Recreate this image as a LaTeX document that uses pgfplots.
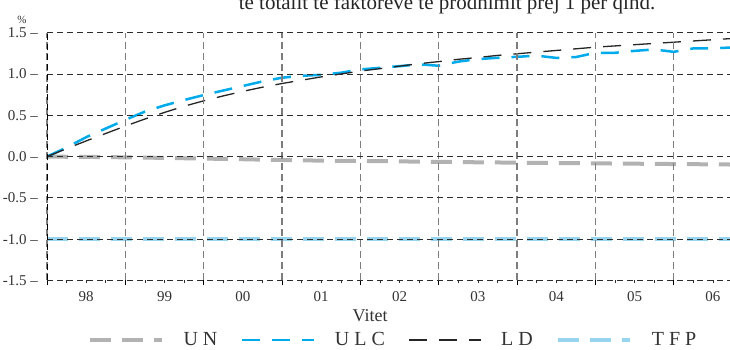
\documentclass[border=0pt]{standalone}
\usepackage{fontspec}
\setmainfont{Liberation Serif}
\usepackage{pgfplots}
\pgfplotsset{compat=1.18}

\definecolor{ungray}{RGB}{178,178,178}
\definecolor{ulcblue}{RGB}{0,170,235}
\definecolor{tfpblue}{RGB}{150,212,240}
\definecolor{vgrid}{RGB}{125,125,125}
\definecolor{hgrid}{RGB}{45,45,45}

% quarterly series, 1998Q1 = 0
\pgfplotstableread{
q   un      ulc    ld
0   0.000   0.000  0.000
1  -0.002   0.110  0.096
2  -0.004   0.235  0.190
3  -0.006   0.340  0.280
4  -0.009   0.445  0.370
5  -0.012   0.545  0.455
6  -0.016   0.620  0.535
7  -0.020   0.685  0.610
8  -0.024   0.745  0.675
9  -0.028   0.800  0.735
10 -0.032   0.855  0.790
11 -0.037   0.910  0.840
12 -0.041   0.955  0.885
13 -0.045   0.978  0.925
14 -0.049   0.990  0.965
15 -0.051   1.015  1.000
16 -0.053   1.055  1.035
17 -0.055   1.075  1.065
18 -0.058   1.095  1.095
19 -0.061   1.117  1.125
20 -0.064   1.100  1.150
21 -0.066   1.150  1.178
22 -0.069   1.180  1.200
23 -0.071   1.196  1.225
24 -0.074   1.208  1.245
25 -0.076   1.222  1.265
26 -0.078   1.195  1.285
27 -0.080   1.205  1.305
28 -0.082   1.257  1.325
29 -0.084   1.257  1.340
30 -0.086   1.280  1.355
31 -0.088   1.297  1.370
32 -0.090   1.268  1.385
33 -0.092   1.310  1.400
34 -0.094   1.310  1.415
35 -0.096   1.322  1.430
}\series

\begin{document}
\begin{tikzpicture}
\useasboundingbox (0pt,0pt) rectangle (730pt,350pt);

\begin{axis}[
  at={(47pt,69.5pt)}, anchor=south west,
  scale only axis, width=683pt, height=247.8pt,
  xmin=0, xmax=34.87, ymin=-1.5, ymax=1.5,
  clip=true,
  axis on top,
  axis x line=bottom, axis y line=left,
  x axis line style={-, draw=hgrid, line width=0.9pt, dash pattern=on 6pt off 4pt},
  y axis line style={-, draw=black, line width=1pt, dash pattern=on 6pt off 4pt},
  xtick={0,4,...,32}, xticklabels={},
  minor xtick={1,2,3,5,6,7,9,10,11,13,14,15,17,18,19,21,22,23,25,26,27,29,30,31,33,34},
  tick align=outside,
  major tick length=5pt, minor tick length=3pt,
  xtick style={draw=black, line width=0.9pt},
  minor x tick style={draw=hgrid, line width=0.6pt},
  extra x ticks={2,6,...,34},
  extra x tick labels={98,99,00,01,02,03,04,05,06},
  extra x tick style={grid=none, major tick length=0pt,
     xticklabel style={anchor=north, inner sep=0pt, yshift=-11pt}},
  ytick={-1.5,-1,...,1.5},
  yticklabels={{-1.5 –},{-1.0 –},{-0.5 –},{0.0 –},{0.5 –},{1.0 –},{1.5 –}},
  ytick style={draw=none},
  yticklabel style={anchor=east, inner sep=0pt, xshift=-4pt},
  tick label style={font=\fontsize{15}{15}\selectfont, text=black!80},
  grid=major,
  x grid style={draw=vgrid, line width=1.3pt, dash pattern=on 7pt off 4pt},
  y grid style={draw=hgrid, line width=0.9pt, dash pattern=on 6pt off 4pt},
  xlabel={Vitet},
  xlabel style={at={(axis description cs:0.473,-0.143)}, anchor=center,
     font=\fontsize{18}{18}\selectfont, text=black!80},
  legend columns=4,
  legend style={at={(axis description cs:0.505,-0.24)}, anchor=center,
     draw=none, fill=none, font=\fontsize{20}{20}\selectfont,
     text=black!80, nodes={inner sep=0pt},
     /tikz/every odd column/.append style={column sep=20pt},
     /tikz/every even column/.append style={column sep=23pt}},
  legend image code/.code={\draw[#1] (0pt,0pt) -- (72pt,0pt);},
]
\addplot[ungray, line width=4pt, dash pattern=on 21pt off 11pt]
  table[x=q, y=un] {\series};
\addlegendentry{U N}
\addplot[ulcblue, line width=2.5pt, dash pattern=on 18pt off 12pt]
  table[x=q, y=ulc] {\series};
\addlegendentry{U L C}
\addplot[black!85, line width=1.3pt, dash pattern=on 18pt off 12pt]
  table[x=q, y=ld] {\series};
\addlegendentry{L D}
\addplot[tfpblue, line width=4pt, dash pattern=on 21pt off 11pt]
  coordinates {(0,-1) (35,-1)};
\addlegendentry{T F P}
\end{axis}

\node[anchor=base, font=\fontsize{21}{21}\selectfont, text=black!85]
  at (447pt,340pt) {të totalit të faktorëve të prodhimit prej 1 për qind.};
\node[font=\fontsize{11}{11}\selectfont, text=black!80] at (22pt,330pt) {\%};
\end{tikzpicture}
\end{document}
